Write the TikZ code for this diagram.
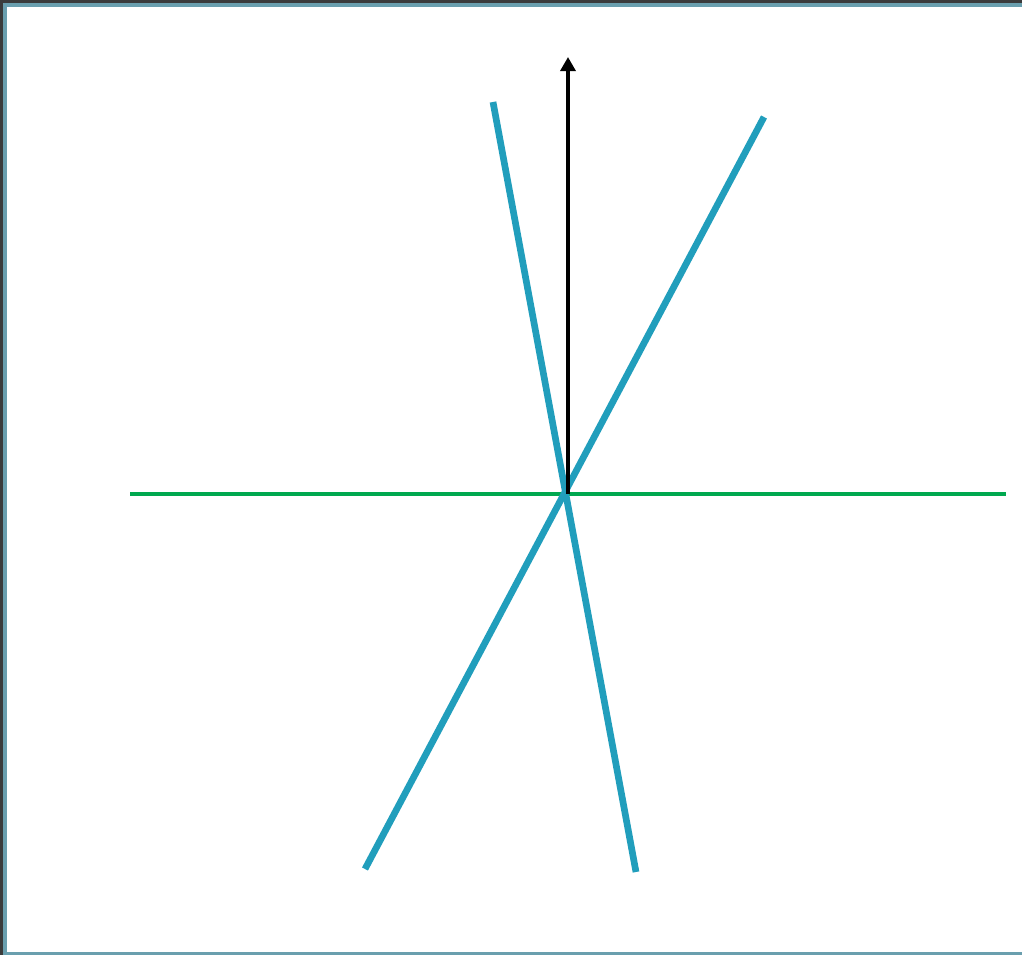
\documentclass[tikz,border=0pt]{standalone}
\usepackage{tikz}
\usetikzlibrary{arrows.meta, calc}
\definecolor{framedark}{HTML}{3B3B3B}
\definecolor{frameteal}{HTML}{6A9FAE}
\definecolor{planec}{HTML}{00A84F}
\definecolor{linec}{HTML}{219EBC}

\begin{document}
\begin{tikzpicture}[
  x=0.02cm, y=-0.02cm,
  plane/.style={draw=planec, line width=2.8pt},
  ray/.style={draw=linec, line width=3.8pt},
  normal/.style={-{Triangle[length=8pt, width=8.5pt]}, line width=2.2pt, black}
]
\useasboundingbox (0,0) rectangle (1022,955);
\fill[white] (0,0) rectangle (1022,955);
% frame
\fill[framedark] (0,0) rectangle (1022,3);
\fill[framedark] (0,0) rectangle (3,955);
\fill[frameteal] (3,3) rectangle (1022,7);
\fill[frameteal] (3,3) rectangle (7,955);
\fill[frameteal] (3,952) rectangle (1022,955);

% points
\coordinate (o) at (566,494);
\coordinate (pl) at (130,494);
\coordinate (pr) at (1006,494);
\coordinate (a1) at (493,102);
\coordinate (a2) at (636,872);
\coordinate (b1) at (764,117);
\coordinate (b2) at (365,869);
\coordinate (nb) at (568,494);
\coordinate (nt) at (568,57);

\draw[plane] (pl) -- (pr);
\draw[ray] (a1) -- (a2);
\draw[ray] (b1) -- (b2);
\draw[normal] (nb) -- (nt);
\end{tikzpicture}
\end{document}
